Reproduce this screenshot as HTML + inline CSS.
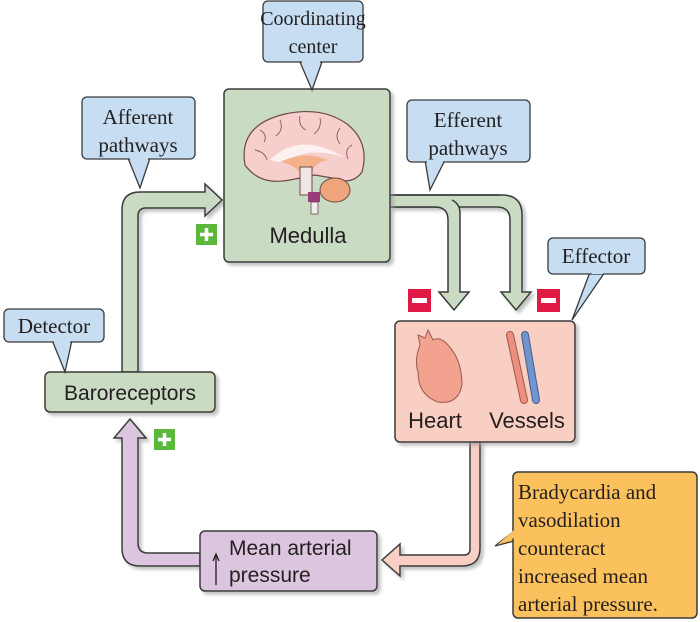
<!DOCTYPE html>
<html><head><style>
body{margin:0;background:#fff;}
svg{display:block;}
.s{font-family:"Liberation Serif",serif;fill:#231f20;}
.a{font-family:"Liberation Sans",sans-serif;fill:#231f20;}
</style></head><body>
<svg width="700" height="622" viewBox="0 0 700 622" xmlns="http://www.w3.org/2000/svg">
<defs><filter id="sh" x="-10%" y="-10%" width="130%" height="130%"><feDropShadow dx="3" dy="3" stdDeviation="1.5" flood-color="#999" flood-opacity="0.6"/></filter></defs>

<path d="M122 372 V210 Q122 192 140 192 H205 V184 L222 200 L205 216 V208 H146 Q138 208 138 216 V372 Z" fill="#c9dcc3" stroke="#3a3a3a" stroke-width="1.5" filter="url(#sh)"/>
<path d="M390 195 H502 Q522 195 522 215 V292 H531 L516 310 L501 292 H510 V220 Q510 207 497 207 H390 Z" fill="#c9dcc3" stroke="#3a3a3a" stroke-width="1.5" filter="url(#sh)"/>
<path d="M448 292 V220 Q448 207 435 207 H390 V196 H443 Q460 196 460 213 V292 H469 L454 310 L439 292 Z" fill="#c9dcc3" stroke="none"/>
<path d="M390 207 H435 Q448 207 448 220 V292 H439 L454 310 L469 292 H460 V213 Q460 204 452 200" fill="none" stroke="#3a3a3a" stroke-width="1.5"/>
<path d="M390 195 H500" fill="none" stroke="#3a3a3a" stroke-width="1.5"/>
<path d="M470 442 V549 Q470 555 464 555 H400 V544 L382 560 L400 576 V566 H462 Q480 566 480 548 V442 Z" fill="#f9cfc4" stroke="#3a3a3a" stroke-width="1.5" filter="url(#sh)"/>
<path d="M200 553 H148 Q138 553 138 543 V438 H146 L130 419 L114 438 H122 V548 Q122 566 140 566 H200 Z" fill="#dcc5de" stroke="#3a3a3a" stroke-width="1.5" filter="url(#sh)"/>

<rect x="224" y="89" width="166" height="173" rx="5" fill="#c9dcc3" stroke="#3a3a3a" stroke-width="1.5" filter="url(#sh)"/>
<path d="M245 165 Q238 125 285 114 Q322 106 347 124 Q370 142 362 172 Q352 186 332 178 L315 175 Q300 178 290 180 Q260 186 245 165 Z" fill="#f6cfcc" stroke="#6b4a4a" stroke-width="1.2"/>
<g stroke="#8a5a5a" stroke-width="0.9" fill="none">
<path d="M260 130 q8 5 4 12 M280 120 q4 10 -4 16 M300 116 q-2 10 6 14 M320 118 q2 10 -6 16 M340 128 q-6 8 0 16 M352 145 q-8 4 -4 14 M255 150 q10 2 12 10"/>
</g>
<path d="M270 160 Q300 130 345 158 Q310 145 282 163 Z" fill="#fff" opacity="0.7"/>
<path d="M280 162 Q305 150 328 160 Q315 162 312 172 L300 172 Q292 164 280 162 Z" fill="#f4b08a"/>
<rect x="300" y="167" width="12" height="28" fill="#f1e6e6" stroke="#6b4a4a" stroke-width="1"/>
<rect x="308" y="192" width="12" height="10" fill="#9a3b7a"/>
<rect x="311" y="202" width="7" height="12" fill="#eee" stroke="#6b4a4a" stroke-width="0.8"/>
<ellipse cx="335" cy="190" rx="15" ry="12" fill="#f0a67c" stroke="#6b4a4a" stroke-width="1"/>
<text x="308" y="243" class="a" font-size="22" text-anchor="middle">Medulla</text>

<rect x="395" y="321" width="180" height="121" rx="5" fill="#f9cfc4" stroke="#3a3a3a" stroke-width="1.5" filter="url(#sh)"/>
<path d="M420 345 L418 335 L425 338 L428 330 L433 340 Q440 336 448 345 Q462 360 462 385 Q458 405 438 402 Q418 395 418 372 Q414 360 420 345 Z" fill="#f4a290" stroke="#9a5a50" stroke-width="1"/>
<path d="M510 335 L524 400" stroke="#9a5a50" stroke-width="8" stroke-linecap="round"/>
<path d="M510 335 L524 400" stroke="#ee8e7e" stroke-width="6" stroke-linecap="round"/>
<path d="M525 335 L536 400" stroke="#4a5a8a" stroke-width="8" stroke-linecap="round"/>
<path d="M525 335 L536 400" stroke="#6f95cf" stroke-width="6" stroke-linecap="round"/>
<text x="435" y="428" class="a" font-size="22" text-anchor="middle">Heart</text>
<text x="527" y="428" class="a" font-size="22" text-anchor="middle">Vessels</text>

<rect x="45" y="372" width="170" height="40" rx="5" fill="#c9dcc3" stroke="#3a3a3a" stroke-width="1.5" filter="url(#sh)"/>
<text x="130" y="400" class="a" font-size="21" text-anchor="middle">Baroreceptors</text>

<rect x="200" y="531" width="177" height="60" rx="5" fill="#dcc5de" stroke="#3a3a3a" stroke-width="1.5" filter="url(#sh)"/>
<path d="M216 585 V556 M213 561 L216 554 L219 561" stroke="#231f20" stroke-width="1.3" fill="none"/>
<text x="229" y="555" class="a" font-size="21">Mean arterial</text>
<text x="229" y="582" class="a" font-size="21">pressure</text>

<path d="M518 528 L495 546 L518 540 Z" fill="#fbc15c" stroke="#3a3a3a" stroke-width="1.3"/>
<rect x="513" y="472" width="184" height="146" rx="5" fill="#fbc15c" stroke="#3a3a3a" stroke-width="1.5"/>
<path d="M514 530 L497 545 L514 538" fill="#fbc15c"/>
<text class="s" font-size="21"><tspan x="518" y="499">Bradycardia and</tspan><tspan x="518" y="527">vasodilation</tspan><tspan x="518" y="555">counteract</tspan><tspan x="518" y="583">increased mean</tspan><tspan x="518" y="611">arterial pressure.</tspan></text>

<g fill="#c7ddf2" stroke="#3a3a3a" stroke-width="1.3">
<path d="M300 62 L312 90 L322 62 Z"/>
<rect x="263" y="1" width="100" height="61" rx="5"/>
<path d="M128 158 L140 188 L150 158 Z"/>
<rect x="82" y="97" width="113" height="62" rx="5"/>
<path d="M425 160 L430 190 L445 160 Z"/>
<rect x="407" y="100" width="123" height="62" rx="5"/>
<path d="M590 272 L572 320 L605 272 Z"/>
<rect x="548" y="238" width="97" height="36" rx="5"/>
<path d="M52 340 L65 372 L72 340 Z"/>
<rect x="4" y="309" width="100" height="33" rx="5"/>
</g>
<g fill="#c7ddf2">
<rect x="302" y="58" width="18" height="6"/><rect x="130" y="154" width="18" height="6"/><rect x="427" y="157" width="16" height="6"/><rect x="592" y="268" width="11" height="6"/><rect x="54" y="337" width="16" height="6"/>
</g>
<text class="s" font-size="20" text-anchor="middle"><tspan x="313" y="25">Coordinating</tspan><tspan x="313" y="53">center</tspan></text>
<text class="s" font-size="21" text-anchor="middle"><tspan x="138" y="124">Afferent</tspan><tspan x="138" y="152">pathways</tspan></text>
<text class="s" font-size="21" text-anchor="middle"><tspan x="468" y="127">Efferent</tspan><tspan x="468" y="155">pathways</tspan></text>
<text x="596" y="263" class="s" font-size="21" text-anchor="middle">Effector</text>
<text x="54" y="333" class="s" font-size="21" text-anchor="middle">Detector</text>

<rect x="196" y="224" width="21" height="21" fill="#5cb83a"/><path d="M206.5 228 V241 M200 234.5 H213" stroke="#fff" stroke-width="3.5"/>
<rect x="154" y="429" width="21" height="21" fill="#5cb83a"/><path d="M164.5 433 V446 M158 439.5 H171" stroke="#fff" stroke-width="3.5"/>
<rect x="408" y="289" width="23" height="23" fill="#e01a44"/><rect x="412" y="298" width="15" height="5" fill="#fff"/>
<rect x="537" y="289" width="23" height="23" fill="#e01a44"/><rect x="541" y="298" width="15" height="5" fill="#fff"/>
</svg>
</body></html>
